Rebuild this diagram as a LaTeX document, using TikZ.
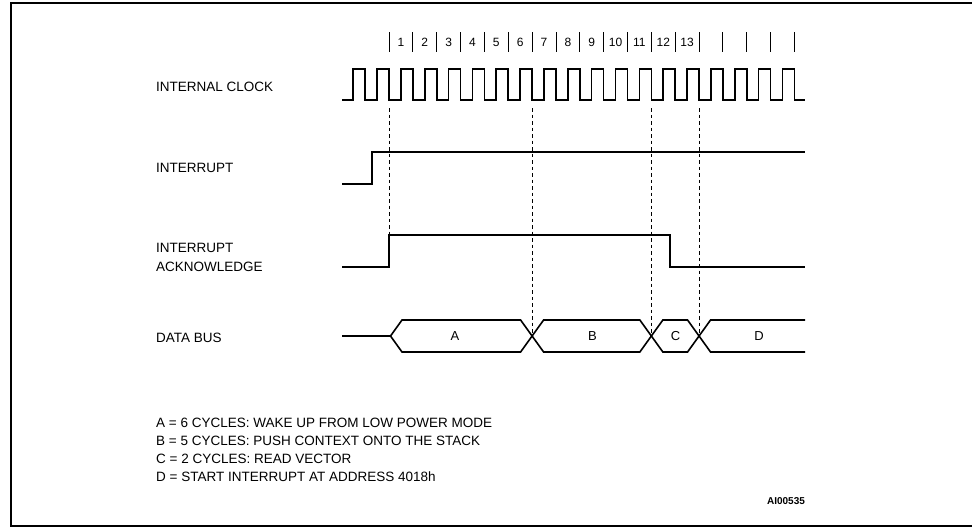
\documentclass[tikz,border=0pt]{standalone}
\usepackage{fontspec}
\setmainfont{Liberation Sans}
\usetikzlibrary{calc}
\begin{document}
\begin{tikzpicture}[x=1pt,y=1pt,
  lbl/.style={anchor=west,inner sep=0pt,font=\fontsize{13.5}{16}\selectfont},
  num/.style={inner sep=0pt,font=\fontsize{12}{14}\selectfont},
  wave/.style={line width=1.6pt,line join=miter},
  guide/.style={line width=0.8pt,dash pattern=on 3.5pt off 3pt},
  tick/.style={line width=0.9pt}]
\useasboundingbox (0,0) rectangle (972,-528);
\clip (0,0) rectangle (972,-528);
% frame
\draw[line width=1.5pt] (11,-3) rectangle (990,-526);
\def\T{23.85}
% signal labels
\node[lbl] (clk) at (156,-87) {INTERNAL CLOCK};
\node[lbl] (irq) at (156,-168) {INTERRUPT};
\node[lbl] (ack1) at (156,-248) {INTERRUPT};
\node[lbl] (ack2) at (156,-266.5) {ACKNOWLEDGE};
\node[lbl] (bus) at (156,-338) {DATA BUS};
% clock ticks
\foreach \k in {0,...,17}{
  \draw[tick] ({389+\T*\k},-32) -- ({389+\T*\k},-52);
}
\foreach \n in {1,...,13}{
  \node[num] (n\n) at ({389+\T*(\n-1)+\T/2},-42) {\n};
}
% internal clock
\draw[wave] (342,-100)
  \foreach \k in {-1,...,17}{
    -- ({389+\T*\k-12},-100) -- ({389+\T*\k-12},-69)
    -- ({389+\T*\k},-69) -- ({389+\T*\k},-100)
  } -- (805,-100);
% interrupt
\draw[wave] (342,-184) -- (372,-184) -- (372,-152) -- (805,-152);
% interrupt acknowledge
\coordinate (ackrise) at (389,-235);
\draw[wave] (342,-267) -- (389,-267) -- (ackrise) -- (670,-235) -- (670,-267) -- (805,-267);
% data bus
\coordinate (x0) at (390.5,-336);
\coordinate (x1) at ({389+\T*6},-336);
\coordinate (x2) at ({389+\T*11},-336);
\coordinate (x3) at ({389+\T*13},-336);
\def\sl{11.5}
\def\hh{16}
\draw[wave] (342,-336) -- (x0);
\draw[wave] (x0) -- ++(\sl,\hh) -- ($(x1)+(-\sl,\hh)$) -- (x1) -- ($(x1)+(\sl,-\hh)$)
  -- ($(x2)+(-\sl,-\hh)$) -- (x2) -- ($(x2)+(\sl,\hh)$) -- ($(x3)+(-\sl,\hh)$) -- (x3)
  -- ($(x3)+(\sl,-\hh)$) -- (805,-352);
\draw[wave] (x0) -- ++(\sl,-\hh) -- ($(x1)+(-\sl,-\hh)$) -- (x1) -- ($(x1)+(\sl,\hh)$)
  -- ($(x2)+(-\sl,\hh)$) -- (x2) -- ($(x2)+(\sl,-\hh)$) -- ($(x3)+(-\sl,-\hh)$) -- (x3)
  -- ($(x3)+(\sl,\hh)$) -- (805,-320);
\node[num,font=\fontsize{13}{15}\selectfont] (A) at (455,-336) {A};
\node[num,font=\fontsize{13}{15}\selectfont] (B) at (592.5,-336) {B};
\node[num,font=\fontsize{13}{15}\selectfont] (C) at (675.5,-336) {C};
\node[num,font=\fontsize{13}{15}\selectfont] (D) at (759,-336) {D};
% dashed guides
\coordinate (g0) at (389,-108);
\coordinate (g1) at ({389+\T*6},-108);
\coordinate (g2) at ({389+\T*11},-108);
\coordinate (g3) at ({389+\T*13},-108);
\draw[guide] (g0) -- (ackrise);
\draw[guide] (g1) -- (x1);
\draw[guide] (g2) -- (x2);
\draw[guide] (g3) -- (x3);
% legend
\node[lbl] (la) at (156,-423) {A = 6 CYCLES: WAKE UP FROM LOW POWER MODE};
\node[lbl] (lb) at (156,-441) {B = 5 CYCLES: PUSH CONTEXT ONTO THE STACK};
\node[lbl] (lc) at (156,-459) {C = 2 CYCLES: READ VECTOR};
\node[lbl] (ld) at (156,-477) {D = START INTERRUPT AT ADDRESS 4018h};
\node[inner sep=0pt,font=\fontsize{10}{12}\selectfont\bfseries] (id) at (786,-501) {AI00535};
\end{tikzpicture}
\end{document}
